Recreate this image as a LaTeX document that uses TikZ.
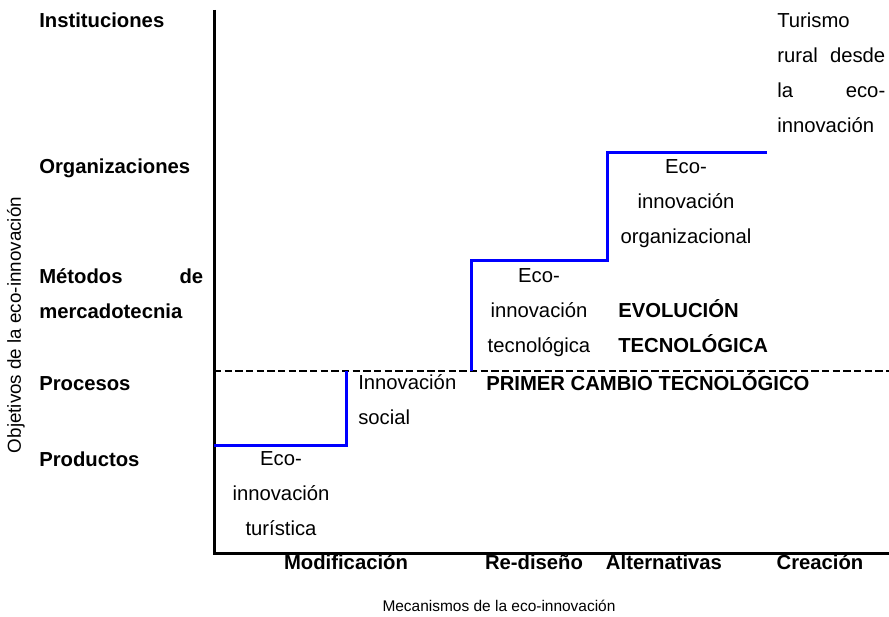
\documentclass[tikz,border=0pt]{standalone}
\usepackage{fontspec}
\setmainfont{Liberation Sans}

\begin{document}
\begin{tikzpicture}[x=0.75pt, y=-0.75pt,
  txt/.style={inner sep=0pt, font=\fontsize{15.2}{26.25}\selectfont},
  txtb/.style={txt, font=\fontsize{15.2}{26.25}\selectfont\bfseries},
  axisline/.style={line width=2.25pt},
  stepline/.style={line width=2.25pt, blue},
  limitline/.style={line width=1.5pt, dash pattern=on 5.5pt off 2.5pt}]
  \useasboundingbox (0,0) rectangle (889,617);

  % ejes
  \coordinate (top) at (214,10);
  \coordinate (origin) at (214,553);
  \coordinate (right) at (889,553);
  \draw[axisline] (top) -- (origin) -- (right);
  \draw[limitline] (214,371) -- (889,371);

  % escalones
  \draw[stepline] (214,445) -- (346,445) -- (346,371);
  \draw[stepline] (471,371) -- (471,260) -- (607,260) -- (607,152) -- (767,152);

  % objetivos
  \node[txtb, anchor=base west] (inst) at (39,28) {Instituciones};
  \node[txtb, anchor=base west] (org) at (39,173) {Organizaciones};
  \node[txtb, anchor=base west, text width=123pt, align=left] (met) at (39,283) {Métodos\hfill de\\mercadotecnia};
  \node[txtb, anchor=base west] (proc) at (39,390) {Procesos};
  \node[txtb, anchor=base west] (prod) at (39,466) {Productos};
  \node[inner sep=0pt, font=\fontsize{14.1}{17}\selectfont, rotate=90] (yaxis) at (16,325) {Objetivos de la eco-innovación};

  % mecanismos
  \node[txtb, anchor=base] (modif) at (346,569) {Modificación};
  \node[txtb, anchor=base] (redis) at (534,569) {Re-diseño};
  \node[txtb, anchor=base] (alt) at (664,569) {Alternativas};
  \node[txtb, anchor=base] (crea) at (820,569) {Creación};
  \node[inner sep=0pt, font=\fontsize{11.6}{14}\selectfont, anchor=base] (xaxis) at (499,611) {Mecanismos de la eco-innovación};

  % etapas (base = ultima linea)
  \node[txt, anchor=base, align=center] (ecotur) at (281,535) {Eco-\\innovación\\turística};
  \node[txt, anchor=base west, align=left] (social) at (358,424) {Innovación\\social};
  \node[txtb, anchor=base west] (primer) at (486,390) {PRIMER CAMBIO TECNOLÓGICO};
  \node[txt, anchor=base, align=center] (ecotec) at (539,352) {Eco-\\innovación\\tecnológica};
  \node[txtb, anchor=base west, align=left] (evol) at (618,352) {EVOLUCIÓN\\TECNOLÓGICA};
  \node[txt, anchor=base, align=center] (ecoorg) at (686,243) {Eco-\\innovación\\organizacional};
  \node[txt, anchor=base west, text width=81pt, align=left] (rural) at (777,28) {Turismo\\rural\hfill desde\\la\hfill eco-\\innovación};
\end{tikzpicture}
\end{document}
